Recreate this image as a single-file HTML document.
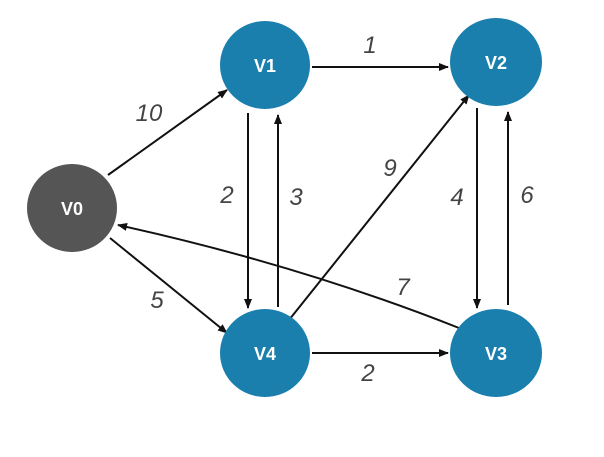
<!DOCTYPE html>
<html><head><style>html,body{margin:0;padding:0;background:#fff}</style></head>
<body>
<svg width="604" height="452" viewBox="0 0 604 452" xmlns="http://www.w3.org/2000/svg">
<defs><marker id="a" markerWidth="10" markerHeight="8" refX="9" refY="4" orient="auto" markerUnits="userSpaceOnUse"><path d="M0,0 L10,4 L0,8 z" fill="#111"/></marker></defs>
<g stroke="#111" stroke-width="2" fill="none" marker-end="url(#a)">
<line x1="108" y1="175" x2="227" y2="90"/>
<line x1="312" y1="67" x2="448" y2="67"/>
<line x1="248" y1="113" x2="248" y2="308"/>
<line x1="278" y1="307" x2="278" y2="115"/>
<line x1="289" y1="320" x2="469" y2="95"/>
<line x1="477" y1="108" x2="477" y2="308"/>
<line x1="508" y1="305" x2="508" y2="112"/>
<line x1="110" y1="238" x2="227" y2="333"/>
<path d="M459,328 Q300,265 118,225"/>
<line x1="312" y1="353" x2="448" y2="353"/>
</g>
<g font-family="Liberation Sans, sans-serif" font-style="italic" font-size="24" fill="#444" text-anchor="middle">
<text x="149" y="121">10</text><text x="370" y="53">1</text><text x="227" y="203">2</text>
<text x="296" y="205">3</text><text x="390" y="176">9</text><text x="457" y="205">4</text>
<text x="527" y="203">6</text><text x="403" y="295">7</text><text x="157" y="308">5</text>
<text x="368" y="381">2</text>
</g>
<ellipse cx="72" cy="208" rx="45" ry="44" fill="#555"/>
<g fill="#1a7fad"><ellipse cx="265" cy="65" rx="45" ry="44"/><ellipse cx="496" cy="62" rx="46" ry="44"/><ellipse cx="496" cy="353" rx="46" ry="44"/><ellipse cx="265" cy="353" rx="45" ry="44"/></g>
<g font-family="Liberation Sans, sans-serif" font-weight="bold" font-size="18" fill="#fff" text-anchor="middle">
<text x="72" y="215">V0</text><text x="265" y="72">V1</text><text x="496" y="69">V2</text><text x="496" y="360">V3</text><text x="265" y="360">V4</text>
</g>
</svg>
</body></html>
